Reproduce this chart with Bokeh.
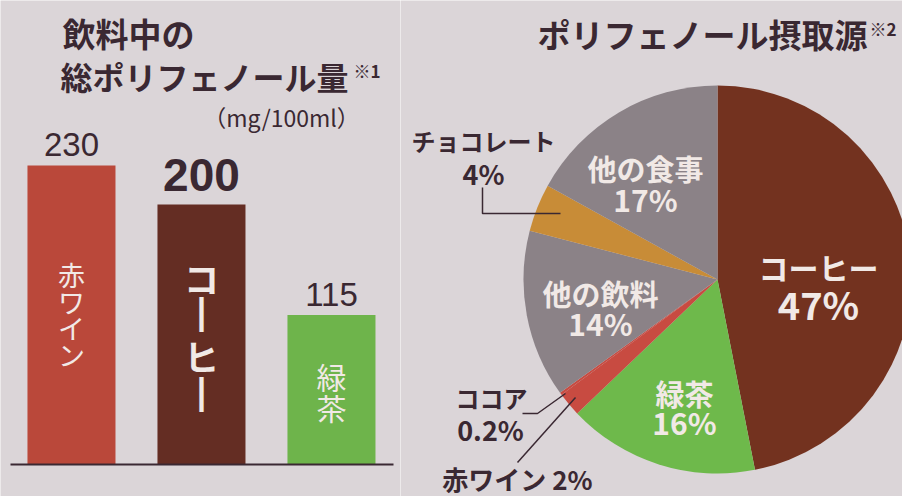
import math
from bokeh.plotting import figure
from bokeh.layouts import row
from bokeh.models import Range1d
from bokeh.core.properties import value
from bokeh.embed import file_html
from bokeh.resources import INLINE

# ---------------- data ----------------
bar_names = ["赤ワイン", "コ┃ヒ┃", "緑茶"]
bar_values = [230, 200, 115]
bar_value_labels = ["230", "200", "115"]

pie_names = ["コーヒー", "緑茶", "赤ワイン", "ココア", "他の飲料", "チョコレート", "他の食事"]
pie_shares = [47, 16, 2, 0.2, 14, 4, 17]
pie_pct_labels = ["47%", "16%", "2%", "0.2%", "14%", "4%", "17%"]

left_title = ["飲料中の", "総ポリフェノール量"]
unit_label = "（mg/100ml）"
right_title = "ポリフェノール摂取源"

# ---------------- styles ----------------
BG = "#dbd5d8"
DARK = "#3a2832"
LIGHT = "#f1e9e6"
FONT = value("Noto Sans CJK JP")
bar_colors = ["#ba483a", "#642d23", "#6eb44b"]
pie_colors = ["#73321f", "#6eb94b", "#c84b41", "#c84b41", "#8b8287", "#c88c37", "#8b8287"]

H = 496


def Y(y_img):
    return H - y_img


def base_fig(w, xr, yr):
    p = figure(width=w, height=H, x_range=xr, y_range=yr,
               output_backend="svg", toolbar_location=None, min_border=0)
    p.axis.visible = False
    p.grid.visible = False
    p.outline_line_color = None
    p.background_fill_color = BG
    p.border_fill_color = BG
    return p


# ---------------- left: bar chart ----------------
idx = list(range(len(bar_values)))
p1 = base_fig(400, Range1d(-0.546, 2.531), Range1d(-24.6, 356.9))
p1.extra_x_ranges = {"px": Range1d(0, 400)}
p1.extra_y_ranges = {"px": Range1d(0, H)}

p1.vbar(x=idx, width=0.677, top=bar_values, bottom=0, color=bar_colors, line_color=None)
p1.segment(x0=[10], x1=[393], y0=[0], y1=[0], line_color=DARK, line_width=2,
           x_range_name="px")

# value labels
p1.text(x=[idx[0], idx[2]], y=[bar_values[0], bar_values[2]],
        text=[bar_value_labels[0], bar_value_labels[2]], text_align="center",
        text_baseline="middle", y_offset=-21, text_font=value("Liberation Sans"),
        text_font_size="33px", text_color=DARK)
p1.text(x=[idx[1]], y=[bar_values[1]], text=[bar_value_labels[1]], text_align="center",
        text_baseline="middle", y_offset=-29, text_font=value("Liberation Sans"),
        text_font_size="46px", text_font_style="bold", text_color=DARK)

# vertical labels inside bars
vert_pos = [[274, 301, 327, 354], [277, 312, 355, 392], [375, 406]]
vert_size = ["27px", "35px", "30px"]
vert_style = ["normal", "bold", "normal"]
for i, name in enumerate(bar_names):
    for ch, yy in zip(name, vert_pos[i]):
        p1.text(x=[idx[i]], y=[Y(yy)], text=[ch], text_align="center",
                text_baseline="middle", text_font=FONT, text_font_size=vert_size[i],
                text_font_style=vert_style[i], text_color=LIGHT, y_range_name="px")

# titles
p1.text(x=[62], y=[Y(32)], text=[left_title[0]], text_align="left", text_baseline="middle",
        text_font=FONT, text_font_size="33px", text_font_style="bold", text_color=DARK,
        x_range_name="px", y_range_name="px")
p1.text(x=[60], y=[Y(75)], text=[left_title[1]], text_align="left", text_baseline="middle",
        text_font=FONT, text_font_size="32px", text_font_style="bold", text_color=DARK,
        x_range_name="px", y_range_name="px")
p1.text(x=[353], y=[Y(70)], text=["※1"], text_align="left", text_baseline="middle",
        text_font=FONT, text_font_size="17px", text_font_style="bold", text_color=DARK,
        x_range_name="px", y_range_name="px")
p1.text(x=[281], y=[Y(116)], text=[unit_label], text_align="center", text_baseline="middle",
        text_font=FONT, text_font_size="23px", text_color=DARK,
        x_range_name="px", y_range_name="px")

# ---------------- right: pie chart ----------------
p2 = base_fig(502, Range1d(400, 902), Range1d(0, H))
total = sum(pie_shares)
starts, ends = [], []
cum = 0.0
for s in pie_shares:
    starts.append(math.pi / 2 - 2 * math.pi * cum / total)
    cum += s
    ends.append(math.pi / 2 - 2 * math.pi * cum / total)

cx, cy, r = 717, Y(279), 194
p2.wedge(x=cx, y=cy, radius=r, start_angle=starts, end_angle=ends, direction="clock",
         fill_color=pie_colors, line_color=None)

# leader lines
p2.line(x=[482, 482, 560], y=[Y(187), Y(213), Y(213)], line_color=DARK, line_width=1.5)
p2.line(x=[522, 537, 565], y=[Y(413), Y(413), Y(393)], line_color=DARK, line_width=1.5)
p2.line(x=[517, 575], y=[Y(462), Y(397)], line_color=DARK, line_width=1.5)

# title
p2.text(x=[537], y=[Y(33)], text=[right_title], text_align="left", text_baseline="middle",
        text_font=FONT, text_font_size="33px", text_font_style="bold", text_color=DARK)
p2.text(x=[869], y=[Y(28)], text=["※2"], text_align="left", text_baseline="middle",
        text_font=FONT, text_font_size="17px", text_font_style="bold", text_color=DARK)

# inside labels (white): name / pct centers
inside = {0: (818, 266, 303, "30px", "38px"),
          1: (684, 392, 421, "29px", "30px"),
          4: (600, 292, 322, "29px", "30px"),
          6: (645, 167, 198, "29px", "30px")}
for i, (x, y1, y2, s1, s2) in inside.items():
    p2.text(x=[x], y=[Y(y1)], text=[pie_names[i]], text_align="center", text_baseline="middle",
            text_font=FONT, text_font_size=s1, text_font_style="bold", text_color=LIGHT)
    p2.text(x=[x], y=[Y(y2)], text=[pie_pct_labels[i]], text_align="center",
            text_baseline="middle", text_font=FONT, text_font_size=s2,
            text_font_style="bold", text_color=LIGHT)

# outside labels (dark)
p2.text(x=[483], y=[Y(140)], text=[pie_names[5]], text_align="center", text_baseline="middle",
        text_font=FONT, text_font_size="24px", text_font_style="bold", text_color=DARK)
p2.text(x=[483], y=[Y(173)], text=[pie_pct_labels[5]], text_align="center",
        text_baseline="middle", text_font=FONT, text_font_size="27px",
        text_font_style="bold", text_color=DARK)
p2.text(x=[491], y=[Y(397)], text=[pie_names[3]], text_align="center", text_baseline="middle",
        text_font=FONT, text_font_size="24px", text_font_style="bold", text_color=DARK)
p2.text(x=[490], y=[Y(429)], text=[pie_pct_labels[3]], text_align="center",
        text_baseline="middle", text_font=FONT, text_font_size="27px",
        text_font_style="bold", text_color=DARK)
p2.text(x=[517], y=[Y(478)], text=[pie_names[2] + " " + pie_pct_labels[2]], text_align="center",
        text_baseline="middle", text_font=FONT, text_font_size="26px",
        text_font_style="bold", text_color=DARK)

layout = row(p1, p2)
open("out.html", "w").write(file_html(layout, INLINE))
